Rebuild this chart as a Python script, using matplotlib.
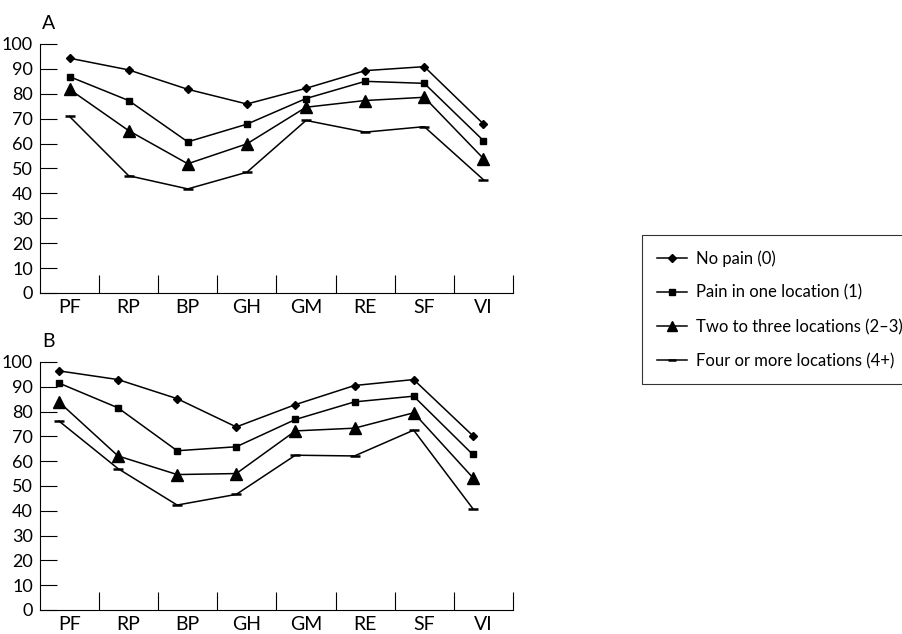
import matplotlib
matplotlib.use('Agg')
import matplotlib.pyplot as plt
import numpy as np

plt.rcParams['font.family'] = ['Lato', 'DejaVu Sans']
plt.rcParams['font.size'] = 12

categories = ['PF', 'RP', 'BP', 'GH', 'GM', 'RE', 'SF', 'VI']
series_labels = ['No pain (0)', 'Pain in one location (1)',
                 'Two to three locations (2\u20133)', 'Four or more locations (4+)']

# panel A
a_none = [94.3, 89.6, 81.8, 75.9, 82.2, 89.3, 90.9, 67.9]
a_one = [86.9, 77.3, 60.7, 67.8, 78.1, 85.0, 84.2, 61.2]
a_two3 = [81.8, 65.2, 51.9, 59.9, 74.6, 77.3, 78.6, 54.0]
a_four = [70.9, 47.1, 41.8, 48.5, 69.3, 64.6, 66.8, 45.5]

# panel B
b_none = [96.4, 92.9, 85.2, 73.8, 82.8, 90.5, 92.9, 70.3]
b_one = [91.5, 81.5, 64.2, 65.8, 76.8, 83.9, 86.2, 62.7]
b_two3 = [83.9, 62.1, 54.6, 55.0, 72.2, 73.3, 79.5, 53.4]
b_four = [76.2, 57.0, 42.3, 46.6, 62.4, 62.1, 72.5, 40.9]

styles = [dict(marker='D', markersize=4.5),
          dict(marker='s', markersize=5),
          dict(marker='^', markersize=9),
          dict(marker='_', markersize=7, markeredgewidth=1.8)]


def draw_panel(ax, rows, letter, shift):
    x = np.arange(len(categories))
    for vals, st, lab in zip(rows, styles, series_labels):
        ax.plot(x + shift, vals, color='black', linewidth=1.1, label=lab,
                clip_on=False, **st)
    ax.set_xlim(-0.5, len(categories) - 0.5)
    ax.set_ylim(0, 100)
    ax.set_yticks(range(0, 101, 10))
    ax.set_xticks(np.arange(len(categories)) + 0.5)
    ax.set_xticklabels([])
    ax.set_xticks(x, minor=True)
    ax.set_xticklabels(categories, minor=True, fontsize=14)
    ax.tick_params(axis='x', which='major', direction='in', length=13, width=0.8)
    ax.tick_params(axis='x', which='minor', length=0, pad=4)
    ax.tick_params(axis='y', direction='in', length=12, width=0.8, pad=5,
                   labelsize=13)
    for s in ('top', 'right'):
        ax.spines[s].set_visible(False)
    for s in ('left', 'bottom'):
        ax.spines[s].set_linewidth(0.8)
    ax.text(0.005, 1.05, letter, transform=ax.transAxes, fontsize=14,
            ha='left', va='bottom')


fig = plt.figure(figsize=(9.02, 6.34), dpi=100)
ax_a = fig.add_axes([0.0443, 0.5379, 0.5244, 0.3927])
ax_b = fig.add_axes([0.0443, 0.0379, 0.5244, 0.3912])

draw_panel(ax_a, [a_none, a_one, a_two3, a_four], 'A', 0.0)
draw_panel(ax_b, [b_none, b_one, b_two3, b_four], 'B', -0.18)

handles, labels = ax_a.get_legend_handles_labels()
leg = fig.legend(handles, labels, loc='upper left', bbox_to_anchor=(0.712, 0.629),
                 frameon=True, fancybox=False, edgecolor='black', fontsize=12,
                 handlelength=1.8, labelspacing=1.08, borderpad=0.9,
                 borderaxespad=0.0, handletextpad=0.5, markerscale=0.8)
leg.get_frame().set_linewidth(0.8)

fig.savefig('out.png', dpi=100)
